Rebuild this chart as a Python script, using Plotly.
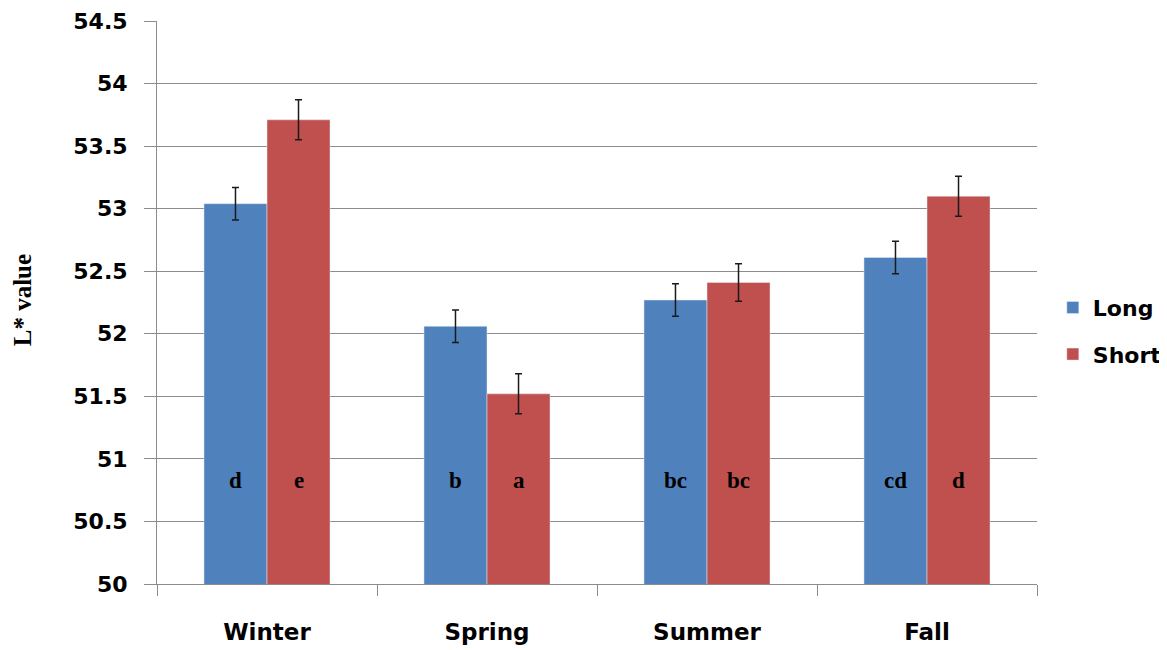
import plotly.graph_objects as go

seasons = ["Winter", "Spring", "Summer", "Fall"]
long_vals = [53.04, 52.06, 52.27, 52.61]
long_err = [0.13, 0.13, 0.13, 0.13]
short_vals = [53.71, 51.52, 52.41, 53.10]
short_err = [0.16, 0.16, 0.15, 0.16]
long_letters = ["d", "b", "bc", "cd"]
short_letters = ["e", "a", "bc", "d"]
y_ticks = [50, 50.5, 51, 51.5, 52, 52.5, 53, 53.5, 54, 54.5]
y_tick_text = ["50", "50.5", "51", "51.5", "52", "52.5", "53", "53.5", "54", "54.5"]
letter_y = 50.83

BLUE = "#4F81BD"
RED = "#C0504D"
sans = "DejaVu Sans"
serif = "Liberation Serif"

fig = go.Figure()
fig.add_trace(go.Bar(
    name="Long", x=seasons, y=long_vals, marker_color=BLUE, legendgroup="long",
    error_y=dict(type="data", array=long_err, color="#1a1a1a", thickness=1.5, width=3.5),
))
fig.add_trace(go.Bar(
    name="Short", x=seasons, y=short_vals, marker_color=RED, legendgroup="short",
    error_y=dict(type="data", array=short_err, color="#1a1a1a", thickness=1.5, width=3.5),
))

annotations = []
for s, ll, sl in zip(seasons, long_letters, short_letters):
    for letter, shift in ((ll, -31.5), (sl, 31.5)):
        annotations.append(dict(
            x=s, y=letter_y, text="<b>" + letter + "</b>", xshift=shift, showarrow=False,
            font=dict(family=serif, size=23, color="#000000"),
            xanchor="center", yanchor="middle",
        ))
annotations.append(dict(
    xref="paper", yref="paper", x=-0.1534, y=0.504, text="<b>L* value</b>",
    textangle=-90, showarrow=False, xanchor="center", yanchor="middle",
    font=dict(family=serif, size=25, color="#000000"),
))

fig.update_layout(
    width=1159, height=642,
    margin=dict(l=149, r=130, t=13, b=66, autoexpand=False),
    paper_bgcolor="white", plot_bgcolor="white",
    barmode="group", bargap=0.427, bargroupgap=0,
    showlegend=True,
    legend=dict(x=1.018, xanchor="left", y=0.449, yanchor="middle",
                font=dict(family=sans, size=22, color="#000000", weight="bold"),
                itemwidth=30, bgcolor="rgba(0,0,0,0)",
                traceorder="grouped", tracegroupgap=15),
    annotations=annotations,
    xaxis=dict(
        type="category", showline=True, linecolor="#8c8c8c", linewidth=1,
        ticks="outside", tickson="boundaries", ticklen=11, tickcolor="#8c8c8c",
        tickfont=dict(family=sans, size=23, color="#000000", weight="bold"),
        ticklabelstandoff=27, ticklabeloverflow="allow", automargin=False,
        showgrid=False,
    ),
    yaxis=dict(
        range=[50, 54.5], tickvals=y_ticks, ticktext=y_tick_text,
        showline=True, linecolor="#8c8c8c", linewidth=1,
        ticks="outside", ticklen=12, tickcolor="#8c8c8c",
        showgrid=True, gridcolor="#8c8c8c", gridwidth=1,
        tickfont=dict(family=sans, size=22, color="#000000", weight="bold"),
        ticklabelstandoff=12, ticklabeloverflow="allow", automargin=False,
        zeroline=False,
    ),
)
fig.write_html("out.html", config={"displayModeBar": False})
